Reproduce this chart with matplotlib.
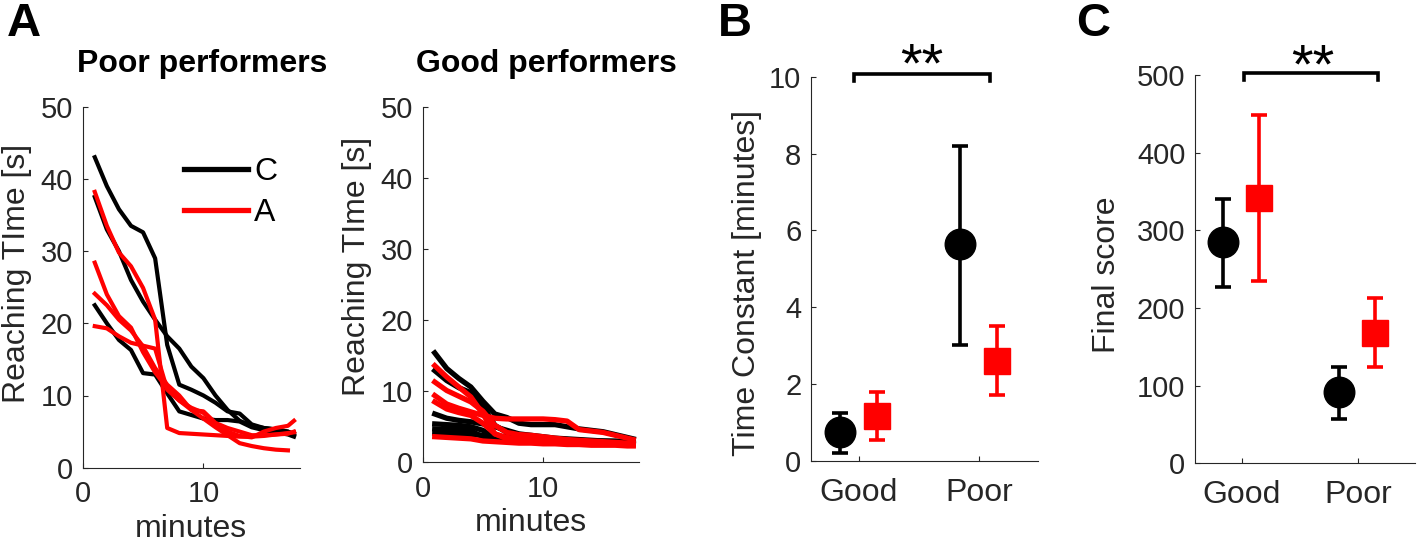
"""Reaching time curves, time constants and final scores for good/poor performers."""

import matplotlib
matplotlib.use("Agg")
import matplotlib.pyplot as plt
from matplotlib.lines import Line2D
import numpy as np

plt.rcParams['font.family'] = ['Liberation Sans', 'DejaVu Sans']

BLACK = "black"
RED = "#ff0000"
AXC = "#262626"

# minute grid shared by all reaching-time curves
minutes = [1, 2, 3, 4, 5, 6, 7, 8, 9, 10, 11, 12, 13, 14, 15, 16, 17, 17.5]

# poor performers, C group (black)
poor_c = [
    [43.0, 39.0, 35.8, 33.5, 32.6, 29.0, 17.0, 11.5, 10.8, 10.0, 9.0, 7.8, 7.5, 6.0, 5.5, 5.3, 5.0, 4.5],
    [37.5, 33.0, 30.0, 26.0, 23.0, 20.5, 18.2, 16.5, 14.0, 12.4, 10.0, 8.0, 6.5, 5.8, 5.5, 5.3, 5.0, 4.7],
    [22.5, 20.0, 17.7, 16.3, 13.1, 12.9, 10.3, 7.8, 7.3, 6.8, 6.6, 6.6, 6.4, 5.6, 5.2, 4.9, 4.6, 4.3],
]
# poor performers, A group (red)
poor_a = [
    [38.2, 33.5, 29.8, 27.9, 24.9, 20.5, 5.5, 4.8, 4.7, 4.6, 4.5, 4.4, 4.3, 4.3, 4.4, 4.6, 4.8, 4.9],
    [28.4, 24.0, 21.0, 19.4, 16.0, 13.2, 11.0, 9.3, 8.0, 7.8, 6.2, 5.5, 5.0, 4.5, 4.5, 4.6, 4.7, 5.0],
    [24.1, 22.5, 20.5, 19.0, 16.8, 13.8, 11.5, 10.0, 8.0, 6.8, 5.6, 4.5, 3.4, 3.0, 2.7, 2.5, 2.4, np.nan],
    [19.6, 19.3, 18.2, 17.3, 16.9, 16.5, 10.8, 9.3, 8.3, 7.6, 5.9, 5.0, 4.4, 4.2, 5.0, 5.5, 5.8, 6.5],
]
# good performers, C group (black)
good_c = [
    [15.4, 13.2, 11.8, 10.6, 8.6, 6.8, 6.3, 5.5, 5.3, 5.3, 5.3, 5.0, 4.7, 4.5, 4.3, 3.9, 3.5, 3.3],
    [12.9, 11.5, 10.5, 9.8, 8.0, 5.2, 4.2, 3.6, 3.5, 3.4, 3.3, 3.2, 3.1, 3.0, 3.0, 2.9, 2.8, 2.8],
    [6.8, 6.2, 5.9, 5.7, 5.4, 5.0, 4.5, 4.0, 3.8, 3.6, 3.4, 3.3, 3.2, 3.1, 3.0, 3.0, 2.9, 2.9],
    [5.4, 5.3, 5.2, 5.0, 4.5, 3.4, 3.2, 3.1, 3.0, 3.0, 2.9, 2.8, 2.8, 2.7, 2.7, 2.7, 2.6, 2.6],
    [4.7, 4.6, 4.6, 4.4, 3.6, 3.2, 3.1, 3.0, 2.9, 2.9, 2.8, 2.8, 2.7, 2.7, 2.6, 2.6, 2.6, 2.5],
    [4.1, 4.0, 4.0, 3.9, 3.8, 3.6, 3.6, 3.5, 3.4, 3.3, 3.2, 3.1, 3.0, 2.9, 2.9, 2.8, 2.8, 2.7],
]
# good performers, A group (red)
good_a = [
    [13.6, 12.0, 10.6, 9.2, 6.8, 4.0, 3.5, 3.3, 3.2, 3.1, 3.0, 2.9, 2.8, 2.8, 2.7, 2.7, 2.6, 2.6],
    [11.3, 10.1, 9.3, 8.5, 7.2, 5.2, 4.2, 3.9, 3.8, 3.6, 3.4, 3.2, 3.1, 3.0, 2.9, 2.8, 2.7, 2.7],
    [9.4, 8.2, 7.6, 7.1, 6.6, 6.2, 6.1, 6.1, 6.1, 6.1, 6.0, 5.8, 4.6, 4.4, 4.2, 3.8, 3.4, 3.2],
    [8.5, 7.5, 7.0, 6.6, 5.5, 4.0, 3.3, 3.1, 3.0, 3.0, 2.9, 2.8, 2.7, 2.7, 2.6, 2.6, 2.5, 2.5],
    [3.6, 3.5, 3.4, 3.3, 3.0, 2.9, 2.8, 2.7, 2.7, 2.6, 2.6, 2.5, 2.5, 2.4, 2.4, 2.4, 2.3, 2.3],
]

groups = ["Good", "Poor"]
# time constants [minutes]: mean, lower, upper
tau_c = [0.75, 5.64]
tau_c_lo = [0.21, 3.03]
tau_c_hi = [1.25, 8.19]
tau_a = [1.17, 2.6]
tau_a_lo = [0.54, 1.71]
tau_a_hi = [1.8, 3.52]
# final scores
score_c = [285, 92]
score_c_lo = [227, 57]
score_c_hi = [340, 124]
score_a = [341, 168]
score_a_lo = [235, 124]
score_a_hi = [448, 213]

W, H = 1418, 544
fig = plt.figure(figsize=(W / 100, H / 100), dpi=100)


def px_axes(left, top, right, bottom):
    return fig.add_axes([left / W, 1 - bottom / H, (right - left) / W, (bottom - top) / H])


def style(ax):
    for s in ["top", "right"]:
        ax.spines[s].set_visible(False)
    for s in ["left", "bottom"]:
        ax.spines[s].set_color(AXC)
        ax.spines[s].set_linewidth(0.8)
    ax.tick_params(direction="in", length=3.5, width=0.8, color=AXC,
                   labelcolor=AXC, labelsize=21, pad=7)


# ---- panel A ----
axL = px_axes(82.7, 106.7, 300, 467.7)
axR = px_axes(422.7, 107, 639.3, 462.3)
for ax, cs, as_, lw in [(axL, poor_c, poor_a, 3.0), (axR, good_c, good_a, 3.8)]:
    for y in cs:
        ax.plot(minutes, y, color=BLACK, lw=lw)
    for y in as_:
        ax.plot(minutes, y, color=RED, lw=lw)
    style(ax)
    ax.set_xlim(0, 18)
    ax.set_ylim(0, 50)
    ax.set_xticks([0, 10])
    ax.set_yticks([0, 10, 20, 30, 40, 50])
    ax.tick_params(axis="x", pad=9)
    ax.set_ylabel("Reaching TIme [s]", fontsize=23, color=AXC)
    ax.set_xlabel("minutes", fontsize=23, color=AXC)
    ax.xaxis.set_label_coords(0.5, -0.128)
axL.yaxis.set_label_coords(-0.233, 0.539)
axR.yaxis.set_label_coords(-0.234, 0.552)

handles = [Line2D([], [], color=BLACK, lw=3.8), Line2D([], [], color=RED, lw=3.8)]
axL.legend(handles, ["C", "A"], loc="upper left", bbox_to_anchor=(0.465, 0.861),
           frameon=False, fontsize=23, handlelength=2.0, handletextpad=0.2,
           labelspacing=0.34, borderaxespad=0, borderpad=0)

fig.text(202 / W, 1 - 72 / H, "Poor performers", ha="center", va="baseline",
         fontsize=23, fontweight="bold")
fig.text(546 / W, 1 - 72 / H, "Good performers", ha="center", va="baseline",
         fontsize=23, fontweight="bold")


def err_panel(ax, c, c_lo, c_hi, a, a_lo, a_hi):
    xpos = np.arange(1, len(groups) + 1)
    c, a = np.array(c), np.array(a)
    ax.errorbar(xpos - 0.16, c, yerr=[c - np.array(c_lo), np.array(c_hi) - c],
                fmt="o", color=BLACK, ms=22, elinewidth=2.6, capsize=5.8, capthick=2.6)
    ax.errorbar(xpos + 0.15, a, yerr=[a - np.array(a_lo), np.array(a_hi) - a],
                fmt="s", color=RED, ms=18.5, elinewidth=2.6, capsize=5.8, capthick=2.6)
    style(ax)
    ax.set_xlim(0.6, 2.49)
    ax.set_xticks(xpos)
    ax.set_xticklabels(groups, fontsize=23)
    ax.tick_params(axis="x", pad=12)


# ---- panel B ----
axB = px_axes(811, 76.7, 1038, 461)
err_panel(axB, tau_c, tau_c_lo, tau_c_hi, tau_a, tau_a_lo, tau_a_hi)
axB.set_ylim(0, 10)
axB.set_yticks([0, 2, 4, 6, 8, 10])
axB.set_ylabel("Time Constant [minutes]", fontsize=23, color=AXC)
axB.yaxis.set_label_coords(-0.216, 0.463)
axB.plot([0.96, 0.96, 2.09, 2.09], [9.88, 10.07, 10.07, 9.88], color=BLACK, lw=2.6,
         clip_on=False, solid_joinstyle="miter")
axB.text(1.52, 9.87, "**", ha="center", va="baseline", fontsize=40)

# ---- panel C ----
axC = px_axes(1195, 75, 1415, 463.3)
err_panel(axC, score_c, score_c_lo, score_c_hi, score_a, score_a_lo, score_a_hi)
axC.set_ylim(0, 500)
axC.set_yticks([0, 100, 200, 300, 400, 500])
axC.set_ylabel("Final score", fontsize=23, color=AXC)
axC.yaxis.set_label_coords(-0.33, 0.486)
axC.plot([1.02, 1.02, 2.17, 2.17], [494, 503, 503, 494], color=BLACK, lw=2.6,
         clip_on=False, solid_joinstyle="miter")
axC.text(1.61, 490, "**", ha="center", va="baseline", fontsize=40)

# panel letters
for xp, letter in [(24, "A"), (735, "B"), (1093, "C")]:
    fig.text(xp / W, 1 - 24 / H, letter, ha="center", va="center",
             fontsize=34, fontweight="bold")

fig.savefig("out.png", dpi=100)
